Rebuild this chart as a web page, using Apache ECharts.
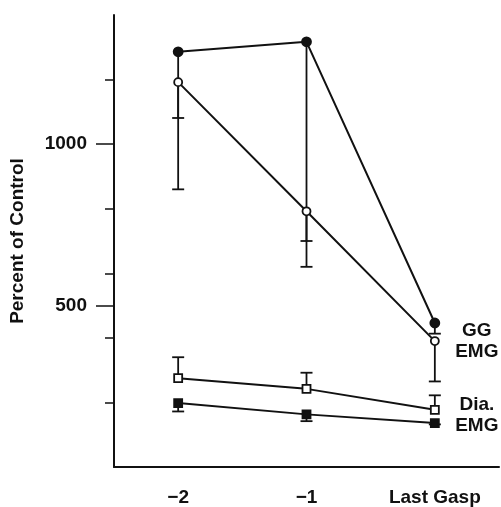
<!DOCTYPE html>
<html>
<head>
<meta charset="utf-8">
<script src="https://cdn.jsdelivr.net/npm/echarts@6/dist/echarts.min.js"></script>
<style>
  html, body { margin: 0; padding: 0; background: #fff; }
  #chart { width: 501px; height: 507px; }
</style>
</head>
<body>
<div id="chart"></div>
<script>
// categories and tick values
var categories = ['\u22122', '\u22121', 'Last Gasp'];
var shortTicks = [200, 400, 600, 800, 1000, 1200];
var labelTicks = [500, 1000];

// GG EMG (filled and open circles), values and error bar ends
var ggFilled = [1286, 1317, 446];
var ggFilledErr = [1081, 700, 413];
var ggOpen = [1192, 792, 390];
var ggOpenErr = [860, 620, 265];

// Dia. EMG (open and filled squares)
var diaOpen = [275, 242, 177];
var diaOpenErr = [340, 292, 222];
var diaFilled = [198, 163, 136];
var diaFilledErr = [172, 142, 132];

var ink = '#111';
var font = 'Liberation Sans';

function errData(vals, ends) {
  return vals.map(function (v, i) { return [i, v, ends[i]]; });
}

function errSeries(vals, ends) {
  return {
    type: 'custom',
    z: 1,
    silent: true,
    data: errData(vals, ends),
    renderItem: function (params, api) {
      var p1 = api.coord([api.value(0), api.value(1)]);
      var p2 = api.coord([api.value(0), api.value(2)]);
      var st = { stroke: ink, lineWidth: 1.8 };
      return {
        type: 'group',
        children: [
          { type: 'line', shape: { x1: p1[0], y1: p1[1], x2: p2[0], y2: p2[1] }, style: st },
          { type: 'line', shape: { x1: p2[0] - 6, y1: p2[1], x2: p2[0] + 6, y2: p2[1] }, style: st }
        ]
      };
    }
  };
}

// put a text label on the last point only
function withEndLabel(vals, text, dy) {
  return vals.map(function (v, i) {
    if (i !== vals.length - 1) return v;
    return {
      value: v,
      label: {
        show: true,
        position: 'inside',
        offset: [42, dy],
        align: 'center',
        verticalAlign: 'middle',
        formatter: text,
        color: ink,
        fontFamily: font,
        fontWeight: 'bold',
        fontSize: 19,
        lineHeight: 21
      }
    };
  });
}

function lineSeries(data, symbol, filled, size) {
  return {
    type: 'line',
    z: 3,
    data: data,
    symbol: symbol,
    symbolSize: size,
    showAllSymbol: true,
    lineStyle: { color: ink, width: 2 },
    itemStyle: { color: filled ? ink : '#fff', borderColor: ink, borderWidth: 1.8 },
    emphasis: { disabled: true }
  };
}

var chart = echarts.init(document.getElementById('chart'));
chart.setOption({
  animation: false,
  backgroundColor: '#fff',
  grid: { left: 112, right: 2, top: 15, bottom: 40 },
  xAxis: {
    type: 'category',
    data: categories,
    boundaryGap: true,
    axisLine: { lineStyle: { color: ink, width: 2 } },
    axisTick: { alignWithLabel: true, length: 14, lineStyle: { color: ink, width: 2 } },
    axisLabel: { color: ink, fontFamily: font, fontWeight: 'bold', fontSize: 19, margin: 21 },
    splitLine: { show: false }
  },
  yAxis: [
    {
      type: 'value',
      min: 0,
      max: 1400,
      name: 'Percent of Control',
      nameLocation: 'middle',
      nameRotate: 90,
      nameGap: 87,
      nameTextStyle: { color: ink, fontFamily: font, fontWeight: 'bold', fontSize: 19 },
      axisLine: { show: true, lineStyle: { color: ink, width: 2 } },
      axisTick: { show: true, length: 9, customValues: shortTicks, lineStyle: { color: ink, width: 1.5 } },
      axisLabel: {
        customValues: labelTicks,
        formatter: function (v) { return String(v); },
        color: ink, fontFamily: font, fontWeight: 'bold', fontSize: 19, margin: 27
      },
      splitLine: { show: false }
    },
    {
      type: 'value',
      min: 0,
      max: 1400,
      position: 'left',
      axisLine: { show: false },
      axisTick: { show: true, length: 18, customValues: labelTicks, lineStyle: { color: ink, width: 1.5 } },
      axisLabel: { show: false },
      splitLine: { show: false }
    }
  ],
  series: [
    errSeries(ggFilled, ggFilledErr),
    errSeries(ggOpen, ggOpenErr),
    errSeries(diaOpen, diaOpenErr),
    errSeries(diaFilled, diaFilledErr),
    lineSeries(ggFilled, 'circle', true, 9),
    lineSeries(withEndLabel(ggOpen, 'GG\nEMG', 0), 'circle', false, 8),
    lineSeries(withEndLabel(diaOpen, 'Dia.\nEMG', 5), 'rect', false, 8),
    lineSeries(diaFilled, 'rect', true, 8)
  ]
});
</script>
</body>
</html>
